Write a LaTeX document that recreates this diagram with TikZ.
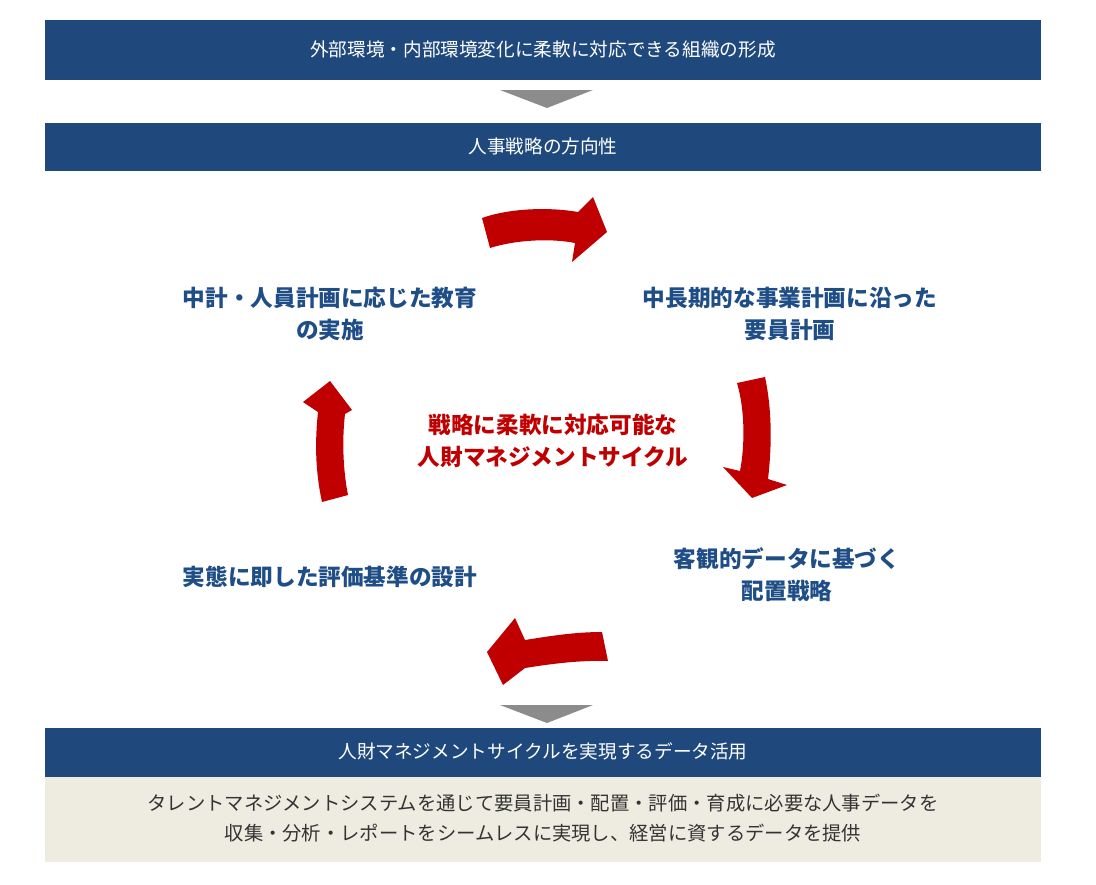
\documentclass[tikz,border=0pt]{standalone}
\usepackage{fontspec}
\setmainfont{Noto Sans CJK JP}
\definecolor{navy}{HTML}{1F497D}
\definecolor{lab}{HTML}{1F4E87}
\definecolor{redc}{HTML}{C00000}
\definecolor{beige}{HTML}{EEECE1}
\begin{document}
\begin{tikzpicture}[x=0.0264cm,y=-0.0264cm,
 bar/.style={fill=navy,draw=none},
 bartext/.style={text=white,font=\fontsize{14}{17}\selectfont},
 lbl/.style={text=lab,font=\bfseries\fontsize{17}{24}\selectfont,align=center},
 redarrow/.style={fill=redc,draw=none},
 grayarrow/.style={fill=gray!90,draw=none}]
\useasboundingbox (0,0) rectangle (1096,884);
\fill[bar] (45,20) rectangle (1041,80);
\node[bartext] (t1) at (543,49) {外部環境・内部環境変化に柔軟に対応できる組織の形成};
\fill[grayarrow] (500,90) -- (593,90) -- (547,108) -- cycle;
\fill[bar] (45,123) rectangle (1041,171);
\node[bartext] (t2) at (543,146) {人事戦略の方向性};
\node[lbl] (a) at (330,314) {中計・人員計画に応じた教育\\の実施};
\node[lbl] (b) at (790,314) {中長期的な事業計画に沿った\\要員計画};
\node[lbl] (c) at (787,575) {客観的データに基づく\\配置戦略};
\node[lbl] (d) at (330,577) {実態に即した評価基準の設計};
\node[text=redc,font=\bfseries\fontsize{17}{24}\selectfont,align=center] (m) at (553,441) {戦略に柔軟に対応可能な\\人財マネジメントサイクル};
% red arrows
\fill[redarrow] (482,218) .. controls (510,208) and (550,207) .. (578,212) -- (593,197) -- (607,232) -- (572,262) -- (575,243) .. controls (550,238) and (515,240) .. (490,248) -- cycle;
\fill[redarrow] (737,383) .. controls (745,410) and (745,445) .. (740,471) -- (723,467) -- (752,498) -- (787,485) -- (768,479) .. controls (772,445) and (772,410) .. (765,377) -- cycle;
\fill[redarrow] (602,632) .. controls (575,632) and (550,636) .. (525,640) -- (515,618) -- (487,652) -- (503,685) -- (525,668) .. controls (550,664) and (580,660) .. (608,661) -- cycle;
\fill[redarrow] (322,502) .. controls (315,470) and (315,440) .. (318,412) -- (303,402) -- (330,381) -- (352,410) -- (345,414) .. controls (342,440) and (343,470) .. (348,495) -- cycle;
\fill[grayarrow] (500,705) -- (593,705) -- (547,723) -- cycle;
\fill[bar] (45,728) rectangle (1041,777);
\node[bartext] (t3) at (543,751) {人財マネジメントサイクルを実現するデータ活用};
\fill[beige] (45,777) rectangle (1041,862);
\node[text=black!80,font=\fontsize{14.5}{22}\selectfont,align=center] (t4) at (543,818) {タレントマネジメントシステムを通じて要員計画・配置・評価・育成に必要な人事データを\\収集・分析・レポートをシームレスに実現し、経営に資するデータを提供};
\end{tikzpicture}
\end{document}
